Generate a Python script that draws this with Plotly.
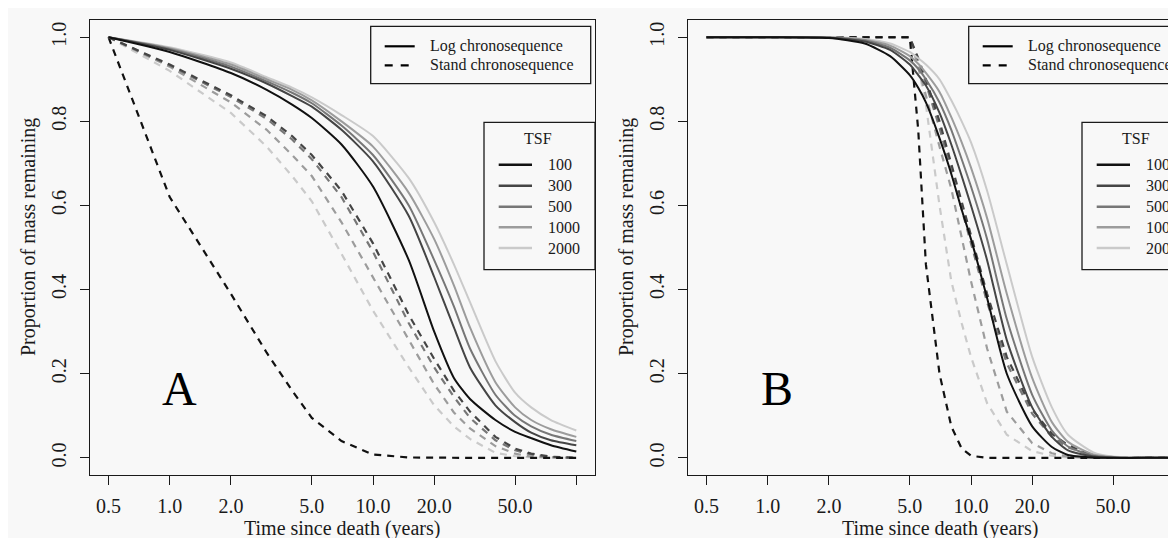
import plotly.graph_objects as go
import math

W, H = 1176, 538

# ---------------- data ----------------
tsf_labels = ["100", "300", "500", "1000", "2000"]
tsf_colors = ["#111111", "#454545", "#777777", "#9c9c9c", "#cacaca"]

# Panel A: time since death (years)
xa = [0.5, 1, 2, 3, 4, 5, 7, 10, 15, 20, 25, 30, 40, 50, 60, 75, 100]
a_log_100 = [1, .965, .915, .875, .84, .808, .745, .645, .47, .30, .19, .14, .09, .062, .047, .03, .015]
a_log_300 = [1, .97, .925, .89, .86, .835, .78, .705, .575, .43, .31, .215, .125, .085, .06, .042, .03]
a_log_500 = [1, .972, .93, .895, .868, .843, .79, .72, .60, .47, .36, .26, .15, .10, .075, .055, .04]
a_log_1000 = [1, .974, .935, .90, .875, .85, .80, .74, .63, .52, .41, .31, .18, .12, .09, .068, .05]
a_log_2000 = [1, .976, .94, .905, .88, .857, .815, .765, .665, .56, .46, .37, .23, .155, .12, .09, .065]

a_stand_100 = [1, .62, .39, .25, .16, .095, .04, .008, .001, 0, 0, 0, 0, 0, 0, 0, 0]
a_stand_300 = [1, .935, .862, .812, .765, .72, .635, .51, .34, .235, .16, .11, .05, .022, .01, .003, 0]
a_stand_500 = [1, .933, .858, .806, .757, .71, .62, .49, .32, .215, .145, .095, .042, .018, .008, .002, 0]
a_stand_1000 = [1, .93, .845, .78, .72, .67, .56, .43, .28, .175, .108, .07, .028, .01, .003, .001, 0]
a_stand_2000 = [1, .92, .82, .74, .67, .61, .485, .35, .215, .125, .075, .045, .012, .004, .001, 0, 0]

# Panel B
xb = [0.5, 1, 2, 3, 4, 5, 5.5, 6, 7, 8, 9, 10, 12, 15, 20, 25, 30, 40, 50, 70, 100]
b_log_100 = [1, 1, .998, .985, .955, .91, .88, .845, .76, .675, .59, .52, .38, .20, .075, .026, .007, .001, 0, 0, 0]
b_log_300 = [1, 1, .999, .99, .97, .935, .91, .885, .82, .745, .67, .60, .47, .28, .12, .05, .018, .003, 0, 0, 0]
b_log_500 = [1, 1, .999, .992, .975, .945, .925, .90, .845, .78, .71, .645, .52, .33, .15, .065, .027, .005, .001, 0, 0]
b_log_1000 = [1, 1, 1, .994, .98, .955, .937, .915, .87, .81, .75, .69, .57, .39, .19, .085, .038, .008, .002, 0, 0]
b_log_2000 = [1, 1, 1, .996, .985, .965, .95, .935, .90, .85, .80, .75, .635, .46, .24, .12, .055, .013, .003, 0, 0]

b_stand_100 = [1, 1, 1, 1, 1, 1, .78, .46, .20, .075, .022, .005, 0, 0, 0, 0, 0, 0, 0, 0, 0]
b_stand_300 = [1, 1, 1, 1, 1, 1, .95, .90, .80, .70, .61, .53, .39, .24, .115, .057, .03, .006, .002, 0, 0]
b_stand_500 = [1, 1, 1, 1, 1, 1, .945, .89, .785, .68, .59, .51, .37, .225, .105, .05, .025, .005, .001, 0, 0]
b_stand_1000 = [1, 1, 1, 1, 1, 1, .93, .86, .74, .64, .52, .42, .26, .11, .035, .011, .003, 0, 0, 0, 0]
b_stand_2000 = [1, 1, 1, 1, 1, 1, .93, .84, .60, .42, .32, .24, .13, .055, .016, .005, .001, 0, 0, 0, 0]

x_tickvals = [0.5, 1, 2, 5, 10, 20, 50, 100]
x_ticktext = ["0.5", "1.0", "2.0", "5.0", "10.0", "20.0", "50.0", ""]
y_tickvals = [0, 0.2, 0.4, 0.6, 0.8, 1.0]
y_ticktext = ["0.0", "0.2", "0.4", "0.6", "0.8", "1.0"]

panels = [
    ("x", "y", xa, [a_log_100, a_log_300, a_log_500, a_log_1000, a_log_2000],
     [a_stand_100, a_stand_300, a_stand_500, a_stand_1000, a_stand_2000]),
    ("x2", "y2", xb, [b_log_100, b_log_300, b_log_500, b_log_1000, b_log_2000],
     [b_stand_100, b_stand_300, b_stand_500, b_stand_1000, b_stand_2000]),
]

FONT = "Liberation Serif, Times New Roman, serif"
BG = "#f8f8f8"
INK = "#1a1a1a"

fig = go.Figure()
for xr, yr, xs, logs, stands in panels:
    for i in reversed(range(5)):
        fig.add_trace(go.Scatter(x=xs, y=stands[i], mode="lines", xaxis=xr, yaxis=yr,
                                 line=dict(color=tsf_colors[i], width=2.2, dash="7px,6px"),
                                 showlegend=False, hoverinfo="skip"))
    for i in reversed(range(5)):
        fig.add_trace(go.Scatter(x=xs, y=logs[i], mode="lines", xaxis=xr, yaxis=yr,
                                 line=dict(color=tsf_colors[i], width=2.0,
                                           shape="spline", smoothing=0.6),
                                 showlegend=False, hoverinfo="skip"))


def px(xp):
    return xp / W


def py(yp):
    return 1 - yp / H


xr_left = math.log10(0.5) - 0.092
xr_right_a = 2.092
dec_px = (587 - 81.8) / (xr_right_a - xr_left)
xr_right_b = xr_left + (W - 679.8) / dec_px

common_x = dict(type="log", tickmode="array", tickvals=x_tickvals, ticktext=x_ticktext,
                ticks="outside", ticklen=9, tickwidth=1.2, tickcolor=INK,
                showline=True, linecolor=INK, linewidth=1.3, mirror=True,
                showgrid=False, zeroline=False, automargin=False,
                tickfont=dict(family=FONT, size=20, color=INK), ticklabelstandoff=4)
common_y = dict(range=[-0.04, 1.04], tickmode="array", tickvals=y_tickvals, ticktext=y_ticktext,
                ticks="outside", ticklen=9, tickwidth=1.2, tickcolor=INK, tickangle=-90,
                showline=True, linecolor=INK, linewidth=1.3,
                showgrid=False, zeroline=False, automargin=False,
                tickfont=dict(family=FONT, size=20, color=INK), ticklabelstandoff=6)

fig.update_layout(
    template="none",
    width=W, height=H,
    margin=dict(l=0, r=0, t=0, b=0, autoexpand=False),
    paper_bgcolor=BG, plot_bgcolor=BG,
    showlegend=False,
    xaxis=dict(common_x, domain=[px(81.8), px(587)], range=[xr_left, xr_right_a], anchor="y"),
    yaxis=dict(common_y, domain=[py(466.7), py(12.4)], anchor="x", mirror=True),
    xaxis2=dict(common_x, domain=[px(679.8), 1.0], range=[xr_left, xr_right_b], anchor="y2"),
    yaxis2=dict(common_y, domain=[py(466.7), py(12.4)], anchor="x2", mirror=False),
)

shapes = []
annotations = []
for off in [0, 598]:
    cx = (81.8 + 587) / 2 + off
    annotations.append(dict(x=px(cx), y=py(520), xref="paper", yref="paper",
                            text="Time since death (years)", showarrow=False,
                            xanchor="center", yanchor="middle",
                            font=dict(family=FONT, size=20, color=INK)))
    annotations.append(dict(x=px(20 + off), y=py(229), xref="paper", yref="paper",
                            text="Proportion of mass remaining", showarrow=False, textangle=-90,
                            xanchor="center", yanchor="middle",
                            font=dict(family=FONT, size=20, color=INK)))
    annotations.append(dict(x=px(171 + off), y=py(380), xref="paper", yref="paper",
                            text="A" if off == 0 else "B", showarrow=False,
                            xanchor="center", yanchor="middle",
                            font=dict(family=FONT, size=48, color="#000")))
    # legend 1
    shapes.append(dict(type="rect", xref="paper", yref="paper",
                       x0=px(362.7 + off), x1=px(582.7 + off), y0=py(75.7), y1=py(18.3),
                       line=dict(color=INK, width=1.3), fillcolor=BG))
    shapes.append(dict(type="line", xref="paper", yref="paper",
                       x0=px(376.7 + off), x1=px(406.7 + off), y0=py(38.3), y1=py(38.3),
                       line=dict(color="#000", width=2.2)))
    shapes.append(dict(type="line", xref="paper", yref="paper",
                       x0=px(376.7 + off), x1=px(406.7 + off), y0=py(57.3), y1=py(57.3),
                       line=dict(color="#000", width=2.2, dash="8px,8px")))
    for txt, yy in [("Log chronosequence", 38.3), ("Stand chronosequence", 57.3)]:
        annotations.append(dict(x=px(420.7 + off), y=py(yy), xref="paper", yref="paper",
                                text=txt, showarrow=False, xanchor="left", yanchor="middle",
                                borderpad=0,
                                font=dict(family=FONT, size=16, color=INK)))
    # legend 2 (TSF)
    shapes.append(dict(type="rect", xref="paper", yref="paper",
                       x0=px(476 + off), x1=px(587 + off), y0=py(261.7), y1=py(114.3),
                       line=dict(color=INK, width=1.3), fillcolor=BG))
    annotations.append(dict(x=px(530 + off), y=py(131), xref="paper", yref="paper",
                            text="TSF", showarrow=False, xanchor="center", yanchor="middle",
                            font=dict(family=FONT, size=16, color=INK)))
    row_y = [156.7, 177.7, 198.7, 219.3, 240.0]
    for i in range(5):
        shapes.append(dict(type="line", xref="paper", yref="paper",
                           x0=px(490.7 + off), x1=px(524 + off), y0=py(row_y[i]), y1=py(row_y[i]),
                           line=dict(color=tsf_colors[i], width=2.6)))
        annotations.append(dict(x=px(539.3 + off), y=py(row_y[i]), xref="paper", yref="paper",
                                text=tsf_labels[i], showarrow=False, xanchor="left", yanchor="middle",
                                borderpad=0,
                                font=dict(family=FONT, size=16, color=INK)))

fig.update_layout(shapes=shapes, annotations=annotations)
fig.write_html("out.html")
